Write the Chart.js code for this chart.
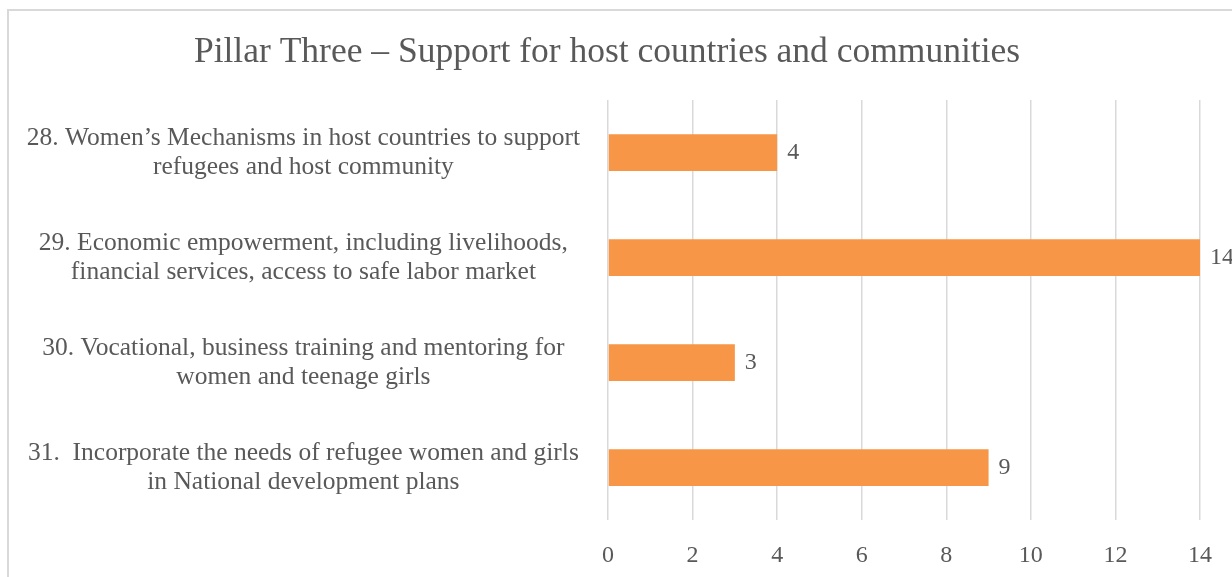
<!DOCTYPE html>
<html>
<head>
<meta charset="utf-8">
<script src="https://cdn.jsdelivr.net/npm/chart.js@4/dist/chart.umd.min.js"></script>
<style>
    html, body { margin: 0; padding: 0; background: #fff; overflow: hidden; }
    #wrap { position: relative; width: 1232px; height: 577px; overflow: hidden; }
    #frame { position: absolute; left: 7px; top: 9px; width: 1400px; height: 700px; border: 2px solid #d9d9d9; }
    #chart { position: absolute; left: 0; top: 0; }
</style>
</head>
<body>
<div id="wrap">
    <div id="frame"></div>
    <canvas id="chart" width="1260" height="577"></canvas>
</div>
<script>
var categories = [
    ['28. Women\u2019s Mechanisms in host countries to support', 'refugees and host community'],
    ['29. Economic empowerment, including livelihoods,', 'financial services, access to safe labor market'],
    ['30. Vocational, business training and mentoring for', 'women and teenage girls'],
    ['31.  Incorporate the needs of refugee women and girls', 'in National development plans']
];
var counts = [4, 14, 3, 9];
var xTicks = [0, 2, 4, 6, 8, 10, 12, 14];

var serif = "'Liberation Serif', 'DejaVu Serif', serif";
var textGray = '#595959';

// value printed just past the end of each bar
var barValues = {
    id: 'barValues',
    afterDatasetsDraw: function (chart) {
        var ctx = chart.ctx;
        var meta = chart.getDatasetMeta(0);
        ctx.save();
        ctx.font = '24px ' + serif;
        ctx.fillStyle = textGray;
        ctx.textAlign = 'left';
        ctx.textBaseline = 'middle';
        meta.data.forEach(function (bar, i) {
            ctx.fillText(String(counts[i]), bar.x + 10, bar.y);
        });
        ctx.restore();
    }
};

window.addEventListener('DOMContentLoaded', function () {
    var ctx = document.getElementById('chart').getContext('2d');
    new Chart(ctx, {
        type: 'bar',
        data: {
            labels: categories,
            datasets: [{
                data: counts,
                backgroundColor: '#f79646',
                borderWidth: 0,
                barPercentage: 0.35,
                categoryPercentage: 1
            }]
        },
        options: {
            indexAxis: 'y',
            responsive: false,
            animation: false,
            layout: { padding: { left: 14, right: 60, top: 0, bottom: 0 } },
            plugins: {
                legend: { display: false },
                tooltip: { enabled: false },
                title: {
                    display: true,
                    text: 'Pillar Three \u2013 Support for host countries and communities',
                    color: textGray,
                    font: { family: serif, size: 35.5, weight: 'normal', lineHeight: 1.2 },
                    padding: { top: 31, bottom: 26.4 }
                }
            },
            scales: {
                x: {
                    min: 0,
                    max: 14,
                    afterFit: function (scale) { scale.height = 52; },
                    afterBuildTicks: function (scale) {
                        scale.ticks = xTicks.map(function (v) { return { value: v }; });
                    },
                    grid: { color: '#d9d9d9', lineWidth: 1.5, drawTicks: false },
                    border: { display: false },
                    ticks: {
                        color: textGray,
                        padding: 21,
                        font: { family: serif, size: 24 }
                    }
                },
                y: {
                    afterFit: function (scale) { scale.width = 594; },
                    grid: { display: false, drawTicks: false },
                    border: { display: false },
                    ticks: {
                        color: textGray,
                        crossAlign: 'center',
                        padding: 28,
                        font: { family: serif, size: 25.5, lineHeight: '29px' }
                    }
                }
            }
        },
        plugins: [barValues]
    });
});
</script>
</body>
</html>
